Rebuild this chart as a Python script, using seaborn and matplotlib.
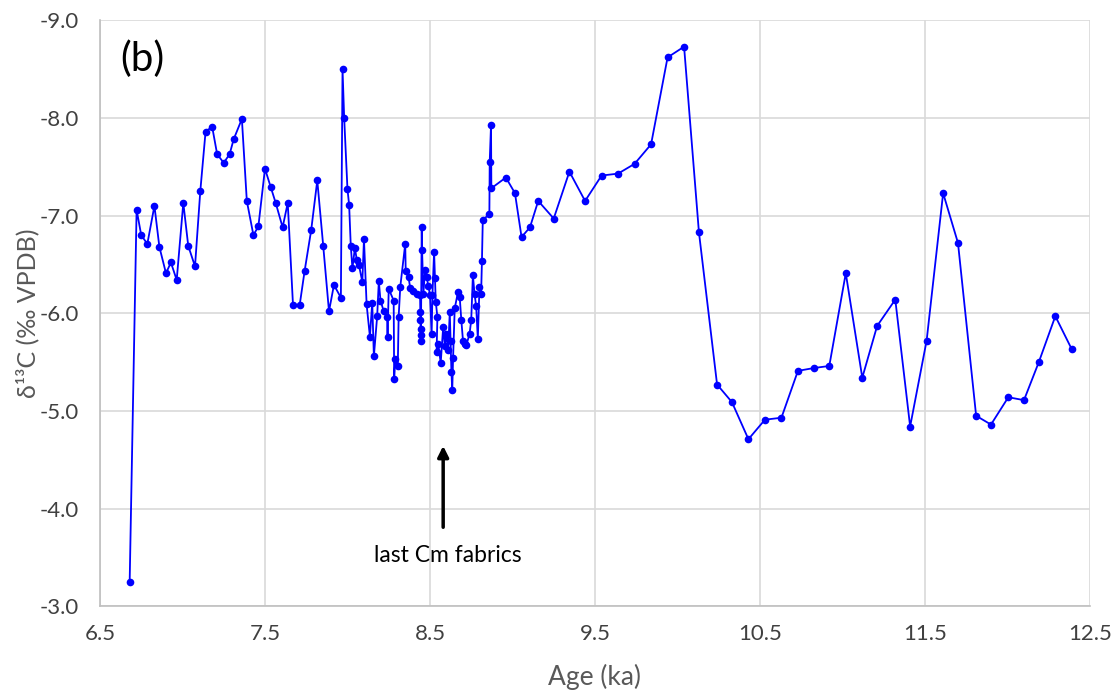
import matplotlib
matplotlib.use("Agg")
import matplotlib.pyplot as plt
from matplotlib.ticker import MultipleLocator, FormatStrFormatter
import seaborn as sns
import pandas as pd

# ages (ka) and d13C values, in drawing order
age = [6.68, 6.722, 6.75, 6.787, 6.83, 6.86, 6.90, 6.93, 6.965, 7.005,
       7.035, 7.076, 7.108, 7.14, 7.18, 7.21, 7.25, 7.286, 7.31, 7.36,
       7.39, 7.43, 7.46, 7.50, 7.535, 7.565, 7.607, 7.638, 7.67, 7.71,
       7.74, 7.78, 7.817, 7.853, 7.888, 7.918, 7.96, 7.97, 7.98, 8.00,
       8.01, 8.02, 8.03, 8.045, 8.056, 8.07, 8.09, 8.10, 8.116, 8.136,
       8.15, 8.16, 8.18, 8.19, 8.20, 8.22, 8.24, 8.243, 8.25, 8.28,
       8.283, 8.29, 8.305, 8.31, 8.32, 8.35, 8.353, 8.37, 8.38, 8.40,
       8.42, 8.44, 8.441, 8.442, 8.443, 8.444, 8.445, 8.45, 8.452, 8.46,
       8.47, 8.48, 8.49, 8.50, 8.51, 8.515, 8.525, 8.53, 8.535, 8.545,
       8.54, 8.55, 8.565, 8.58, 8.59, 8.60, 8.61, 8.62, 8.625, 8.63,
       8.635, 8.64, 8.65, 8.67, 8.68, 8.69, 8.70, 8.71, 8.72, 8.74,
       8.75, 8.76, 8.77, 8.78, 8.79, 8.80, 8.81, 8.815, 8.82, 8.86,
       8.862, 8.87, 8.872, 8.96, 9.015, 9.055, 9.106, 9.156, 9.25, 9.345,
       9.44, 9.54, 9.64, 9.74, 9.84, 9.94, 10.04, 10.13, 10.24, 10.33,
       10.43, 10.53, 10.63, 10.73, 10.83, 10.92, 11.02, 11.12, 11.21, 11.32,
       11.41, 11.51, 11.61, 11.70, 11.81, 11.90, 12.005, 12.10, 12.19, 12.29,
       12.39]

d13c = [-3.25, -7.06, -6.80, -6.71, -7.10, -6.68, -6.41, -6.52, -6.34, -7.13,
        -6.69, -6.48, -7.25, -7.86, -7.91, -7.63, -7.54, -7.63, -7.78, -7.99,
        -7.15, -6.80, -6.89, -7.48, -7.29, -7.13, -6.88, -7.13, -6.08, -6.08,
        -6.43, -6.85, -7.36, -6.69, -6.02, -6.29, -6.16, -8.50, -8.00, -7.27,
        -7.11, -6.69, -6.46, -6.67, -6.55, -6.49, -6.32, -6.76, -6.09, -5.76,
        -6.11, -5.56, -5.97, -6.33, -6.13, -6.02, -5.96, -5.76, -6.25, -6.13,
        -5.33, -5.53, -5.46, -5.96, -6.27, -6.71, -6.43, -6.37, -6.26, -6.23,
        -6.20, -6.19, -6.01, -5.93, -5.84, -5.78, -5.72, -6.88, -6.65, -6.20,
        -6.44, -6.37, -6.28, -6.19, -5.79, -6.19, -6.63, -6.36, -6.12, -5.96,
        -5.60, -5.69, -5.49, -5.86, -5.66, -5.79, -5.62, -6.01, -5.72, -5.40,
        -5.21, -5.54, -6.05, -6.22, -6.17, -5.93, -5.72, -5.69, -5.67, -5.79,
        -5.93, -6.39, -6.20, -6.07, -5.74, -6.27, -6.20, -6.54, -6.95, -7.02,
        -7.55, -7.93, -7.28, -7.39, -7.23, -6.78, -6.88, -7.15, -6.97, -7.45,
        -7.15, -7.41, -7.43, -7.53, -7.73, -8.62, -8.73, -6.83, -5.27, -5.09,
        -4.71, -4.91, -4.93, -5.41, -5.44, -5.46, -6.41, -5.34, -5.87, -6.14,
        -4.84, -5.72, -7.23, -6.72, -4.95, -4.86, -5.14, -5.11, -5.50, -5.97,
        -5.63]

x_ticks = [6.5, 7.5, 8.5, 9.5, 10.5, 11.5, 12.5]
y_ticks = [-9.0, -8.0, -7.0, -6.0, -5.0, -4.0, -3.0]

df = pd.DataFrame({"age": age, "d13c": d13c})

sns.set_style("white")
plt.rcParams["font.family"] = ["Lato", "DejaVu Sans"]

fig = plt.figure(figsize=(11.12, 7), dpi=100)
ax = fig.add_axes([0.0899, 0.134, 0.8903, 0.837])

sns.lineplot(data=df, x="age", y="d13c", sort=False, estimator=None,
             color="#0000ff", linewidth=1.3, marker="o", markersize=5.5,
             markeredgewidth=0, ax=ax)

ax.set_xlim(6.5, 12.5)
ax.set_ylim(-3.0, -9.0)
ax.set_xticks(x_ticks)
ax.set_yticks(y_ticks)
ax.xaxis.set_minor_locator(MultipleLocator(0.2))
ax.yaxis.set_minor_locator(MultipleLocator(0.5))
ax.xaxis.set_major_formatter(FormatStrFormatter("%.1f"))
ax.yaxis.set_major_formatter(FormatStrFormatter("%.1f"))

ax.grid(True, which="major", color="#d9d9d9", linewidth=1.2, zorder=0)
ax.set_axisbelow(True)
for s in ["top", "right"]:
    ax.spines[s].set_visible(False)
for s in ["left", "bottom"]:
    ax.spines[s].set_color("#bfbfbf")
    ax.spines[s].set_linewidth(1.2)

ax.tick_params(which="major", length=7, width=1.2, color="#bfbfbf",
               labelsize=16, labelcolor="#404040")
ax.tick_params(axis="x", which="major", pad=6)
ax.tick_params(axis="y", which="major", pad=8)
ax.tick_params(which="minor", length=5, width=1.2, color="#bfbfbf")

ax.set_xlabel("Age (ka)", fontsize=19, color="#595959", labelpad=14)
ax.set_ylabel("δ¹³C (‰ VPDB)", fontsize=18, color="#595959", labelpad=0)

ax.text(0.02, 0.965, "(b)", transform=ax.transAxes, fontsize=29,
        color="black", va="top", ha="left")

ax.annotate("", xy=(8.58, -4.67), xytext=(8.58, -3.78),
            arrowprops=dict(arrowstyle="-|>", color="black", lw=2.5,
                            mutation_scale=16))
ax.text(8.61, -3.52, "last Cm fabrics", fontsize=16.5, color="black",
        ha="center", va="center")

fig.savefig("out.png", dpi=100)
